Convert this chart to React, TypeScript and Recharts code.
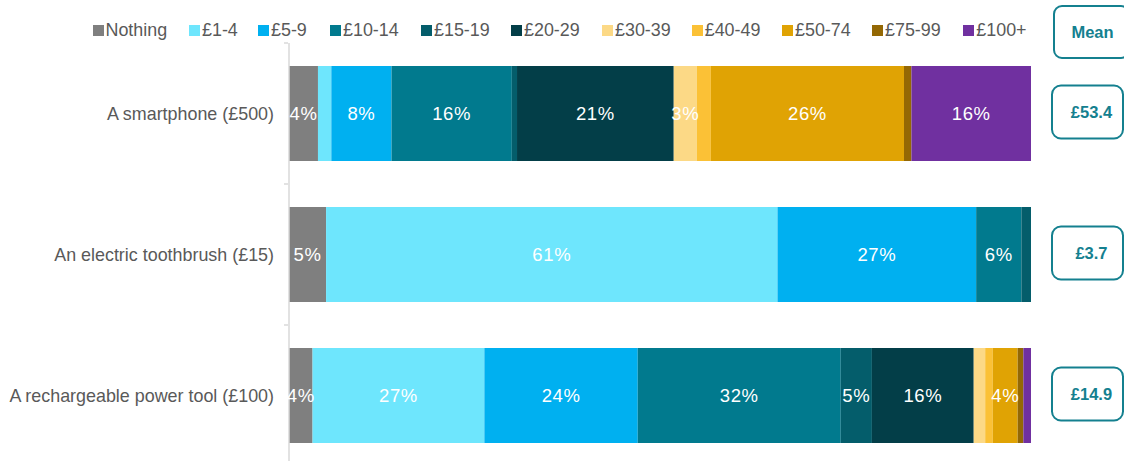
import React from "react";
import { BarChart, Bar, XAxis, YAxis, LabelList } from "recharts";

const categories = [
  "A smartphone (£500)",
  "An electric toothbrush (£15)",
  "A rechargeable power tool (£100)",
];
const seriesNames = ["Nothing", "£1-4", "£5-9", "£10-14", "£15-19", "£20-29", "£30-39", "£40-49", "£50-74", "£75-99", "£100+"];
const seriesColors = ["#7f7f7f", "#6ee6fd", "#00b0f0", "#017a8e", "#045d6b", "#033e48", "#fcd986", "#fbc136", "#e0a304", "#946804", "#7030a0"];
const smartphone = [3.9, 1.8, 8.1, 16.2, 0.7, 21.1, 3.1, 1.9, 26.0, 1.0, 16.1];
const toothbrush = [5.0, 60.9, 26.8, 6.1, 1.3, 0, 0, 0, 0, 0, 0];
const powerTool = [3.7, 27.0, 24.1, 31.9, 4.9, 16.0, 1.8, 1.2, 3.9, 0.9, 1.2];
const means = ["£53.4", "£3.7", "£14.9"];
const meanHeader = "Mean";

const rows = [smartphone, toothbrush, powerTool];
const data = categories.map((name, ci) => {
  const row: Record<string, any> = { name, mean: means[ci] };
  seriesNames.forEach((_, si) => {
    row[`s${si}`] = rows[ci][si];
  });
  return row;
});

// layout constants
const W = 1124;
const H = 470;
const M_TOP = 43;
const M_BOTTOM = 4;
const LEFT_W = 289;
const RIGHT_W = 93;
const BAND = (H - M_TOP - M_BOTTOM) / categories.length;
const FONT = "'Liberation Sans', Arial, sans-serif";
const TEXT_GREY = "#595959";
const TEAL = "#14808f";
const LEGEND_X = [92.5, 189, 258, 330, 421, 511, 602, 691.7, 782, 872, 963.3];

const LeftTick = (props: any) => {
  const { y, payload, index } = props;
  const ax = LEFT_W - 1;
  return (
    <g>
      <text x={LEFT_W - 15} y={y} textAnchor="end" dominantBaseline="central" fill={TEXT_GREY} fontSize={17.9} fontFamily={FONT}>
        {payload.value}
      </text>
      <line x1={ax - 4} x2={ax} y1={y - BAND / 2} y2={y - BAND / 2} stroke="#d9d9d9" strokeWidth={1.5} />
      {index === categories.length - 1 && (
        <line x1={ax - 4} x2={ax} y1={y + BAND / 2} y2={y + BAND / 2} stroke="#d9d9d9" strokeWidth={1.5} />
      )}
    </g>
  );
};

const RightTick = (props: any) => {
  const { y, index } = props;
  const bx = W - RIGHT_W + 21;
  const bw = 71;
  const bh = 53;
  return (
    <g>
      <rect x={bx} y={y - bh / 2 - 1.5} width={bw} height={bh} rx={9} ry={9} fill="#fff" stroke={TEAL} strokeWidth={2} />
      <text x={bx + bw / 2 + 4} y={y - 1.5} textAnchor="middle" dominantBaseline="central" fill={TEAL} fontSize={16.5} fontWeight="bold" fontFamily={FONT}>
        {data[index]?.mean}
      </text>
    </g>
  );
};

const makeLabel = () => (props: any) => {
  const { x, y, width, height, value } = props;
  if (value == null || Number(value) < 2.5) return null;
  return (
    <text x={Number(x) + Number(width) / 2} y={Number(y) + Number(height) / 2} textAnchor="middle" dominantBaseline="central" fill="#ffffff" fontSize={18.5} letterSpacing={0.6} fontFamily={FONT}>
      {`${Math.round(Number(value))}%`}
    </text>
  );
};

const Legend = () => (
  <div style={{ position: "absolute", left: 0, top: 20, width: W, height: 20, fontFamily: FONT, fontSize: 17.9, color: TEXT_GREY, whiteSpace: "nowrap" }}>
    {seriesNames.map((n, i) => (
      <div key={n} style={{ position: "absolute", left: LEGEND_X[i], top: 0, display: "flex", alignItems: "center", height: 20 }}>
        <span style={{ display: "inline-block", width: 11, height: 11, background: seriesColors[i], marginRight: 2 }} />
        <span style={{ lineHeight: "20px" }}>{n}</span>
      </div>
    ))}
  </div>
);

export default function App() {
  return (
    <div style={{ position: "relative", width: W, height: 461, overflow: "hidden", background: "#fff" }}>
      <style>{"body{margin:0}"}</style>
      <BarChart
        width={W}
        height={H}
        data={data}
        layout="vertical"
        stackOffset="expand"
        margin={{ top: M_TOP, right: 0, bottom: M_BOTTOM, left: 0 }}
      >
        <XAxis type="number" hide domain={[0, 1]} />
        <YAxis
          yAxisId="left"
          type="category"
          dataKey="name"
          width={LEFT_W}
          axisLine={{ stroke: "#d9d9d9", strokeWidth: 1.5 }}
          tickLine={false}
          tick={<LeftTick />}
          interval={0}
        />
        <YAxis
          yAxisId="right"
          orientation="right"
          type="category"
          dataKey="name"
          width={RIGHT_W}
          axisLine={false}
          tickLine={false}
          tick={<RightTick />}
          interval={0}
        />
        {seriesNames.map((n, i) => (
          <Bar
            key={n}
            name={n}
            yAxisId="left"
            dataKey={`s${i}`}
            stackId="a"
            fill={seriesColors[i]}
            barSize={95}
            isAnimationActive={false}
          >
            <LabelList dataKey={`s${i}`} content={makeLabel()} />
          </Bar>
        ))}
      </BarChart>
      <Legend />
      <div
        style={{
          position: "absolute",
          left: 1053,
          top: 5,
          width: 71,
          height: 50,
          border: `2px solid ${TEAL}`,
          borderRadius: 9,
          display: "flex",
          alignItems: "center",
          justifyContent: "center",
          paddingLeft: 2,
          color: TEAL,
          fontWeight: "bold",
          fontSize: 16.5,
          fontFamily: FONT,
          boxSizing: "content-box",
        }}
      >
        {meanHeader}
      </div>
    </div>
  );
}
